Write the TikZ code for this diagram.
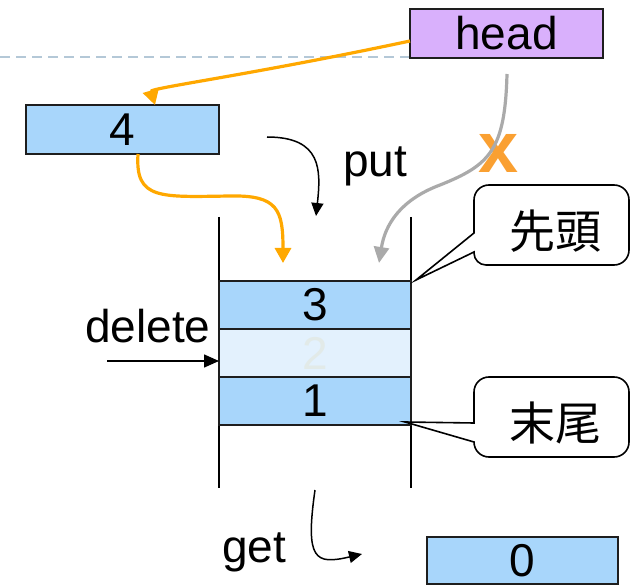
\documentclass[tikz,border=0pt]{standalone}
\usepackage{fontspec}
\setmainfont{Liberation Sans}
\newfontfamily\cjkfont{Noto Sans CJK JP}
\usetikzlibrary{arrows.meta}
\definecolor{headviolet}{RGB}{217,176,252}
\definecolor{cellblue}{RGB}{168,214,251}
\definecolor{cellpale}{RGB}{227,241,253}
\definecolor{ghost}{RGB}{226,234,232}
\definecolor{arrorange}{RGB}{255,168,0}
\definecolor{xorange}{RGB}{250,160,50}
\definecolor{arrgray}{RGB}{170,170,170}
\definecolor{dashgray}{RGB}{180,200,215}
\definecolor{edge}{RGB}{30,30,30}
\begin{document}
\begin{tikzpicture}[x=1pt,y=-1pt,
  every node/.style={font=\fontsize{46}{50}\selectfont, inner sep=0pt},
  databox/.style={draw=edge, line width=1.8pt, fill=cellblue, minimum width=192pt, minimum height=48pt},
  orangearrow/.style={draw=arrorange, line width=3.2pt, -{Triangle[length=15pt,width=16pt]}},
  grayarrow/.style={draw=arrgray, line width=3.2pt, -{Triangle[length=16pt,width=15pt]}},
  blackarrow/.style={draw=black, line width=1.5pt, -{Triangle[length=13pt,width=12pt]}},
  wall/.style={draw=black, line width=1.6pt},
  calloutshape/.style={draw=black, line width=1.6pt, fill=white, line join=miter},
  cjktext/.style={font=\cjkfont\fontsize{46}{48}\selectfont},
  plaintext/.style={anchor=base west}
]
\useasboundingbox (0,0) rectangle (632,585);

% dashed guide line
\draw[dashgray, line width=1.5pt, dash pattern=on 10pt off 6pt] (0,57) -- (410,57);

% boxes
\node[databox, fill=headviolet, minimum width=193pt, minimum height=49pt] (head) at (506.5,33.5) {head};
\node[databox, minimum width=193pt, minimum height=49pt] (box4) at (122.5,129.5) {4};

% stack walls
\draw[wall] (219,217) -- (219,488);
\draw[wall] (411,217) -- (411,488);

% cells
\node[databox] (cell3) at (315,305) {3};
\node[databox, fill=cellpale, text=ghost] (cell2) at (315,353) {2};
\node[databox] (cell1) at (315,401) {1};
\node[databox, minimum width=191pt, minimum height=47pt] (box0) at (522.5,560.5) {0};

% callouts
\draw[calloutshape] (416,280) -- (474,252) -- (474,253) .. controls (474,259.6) and (479.4,265) .. (486,265)
  -- (614,265) .. controls (622.3,265) and (629,258.3) .. (629,250) -- (629,200)
  .. controls (629,191.7) and (622.3,185) .. (614,185) -- (489,185)
  .. controls (480.7,185) and (474,191.7) .. (474,200) -- (474,233) -- cycle;
\draw[calloutshape] (405,422) -- (474,442) .. controls (474,450.3) and (480.7,457) .. (489,457)
  -- (614,457) .. controls (622.3,457) and (629,450.3) .. (629,442) -- (629,392)
  .. controls (629,383.7) and (622.3,377) .. (614,377) -- (489,377)
  .. controls (480.7,377) and (474,383.7) .. (474,392) -- (474,423) -- cycle;
\node[cjktext] (sentou) at (555,231) {先頭};
\node[cjktext] (matsubi) at (555,423) {末尾};

% labels
\node[plaintext] (put) at (343,177) {put};
\node[plaintext] (get) at (222,562) {get};
\node[plaintext] (delete) at (85,342) {delete};
\node[anchor=base, font=\fontsize{72}{72}\bfseries\selectfont, text=xorange] (cross) at (498.5,173) {x};

% connector end points
\coordinate (headout) at (410,41);
\coordinate (box4in) at (155,105);
\coordinate (box4out) at (138,154);
\coordinate (newtop) at (283,263);
\coordinate (putstart) at (267,137);
\coordinate (putend) at (316,216);
\coordinate (headdown) at (507,74);
\coordinate (oldtop) at (379,263);
\coordinate (getstart) at (315,490);
\coordinate (getend) at (362,554);
\coordinate (delstart) at (107,361);
\coordinate (delend) at (219,361);

% connectors
\draw[orangearrow] (headout) .. controls (250,75) and (150,88) .. (box4in);
\draw[orangearrow] (box4out) .. controls (135,200) and (160,197) .. (230,196) .. controls (278,195) and (283,210) .. (newtop);
\draw[grayarrow] (headdown) .. controls (505,150) and (490,165) .. (440,185) .. controls (400,200) and (385,225) .. (oldtop);
\draw[blackarrow] (putstart) .. controls (322,137) and (321,170) .. (putend);
\draw[blackarrow] (getstart) .. controls (305,560) and (315,565) .. (getend);
\draw[blackarrow, -{Triangle[length=15pt,width=13pt]}] (delstart) -- (delend);
\end{tikzpicture}
\end{document}
